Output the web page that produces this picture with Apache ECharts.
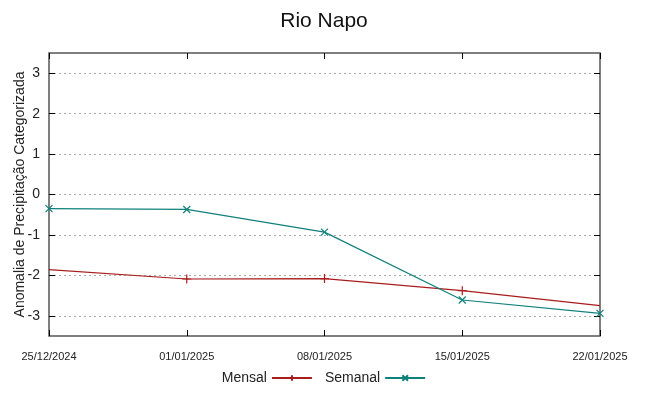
<!DOCTYPE html>
<html>
<head>
<meta charset="utf-8">
<script src="https://cdn.jsdelivr.net/npm/echarts@6/dist/echarts.min.js"></script>
<style>
  html, body { margin: 0; padding: 0; background: #fff; }
  #chart { width: 648px; height: 396px; }
</style>
</head>
<body>
<div id="chart"></div>
<script>
// valores
var datas = ['25/12/2024', '01/01/2025', '08/01/2025', '15/01/2025', '22/01/2025'];
var mensal = [-1.86, -2.09, -2.08, -2.38, -2.75];
var semanal = [-0.35, -0.37, -0.93, -2.61, -2.94];
var yTicks = [-3, -2, -1, 0, 1, 2, 3];

var vermelho = '#a81c1c';
var verde = '#10807c';
var fonte = 'Liberation Sans, Arial, sans-serif';

var plus = 'path://M0,5L10,5M5,0L5,10';
var cross = 'path://M0,0L10,10M10,0L0,10';

// primeiro e ultimo ponto do mensal sem marcador
var mensalData = mensal.map(function (v, i) {
  if (i === 0 || i === mensal.length - 1) return { value: v, symbol: 'none' };
  return v;
});

var chart = echarts.init(document.getElementById('chart'));

var baseX = {
  type: 'category',
  data: datas,
  boundaryGap: false,
  axisLine: { show: false, onZero: false },
  axisTick: { show: true, inside: true, length: 6, lineStyle: { color: '#000' } },
  splitLine: { show: false }
};
var baseY = {
  type: 'value',
  min: -3.5,
  max: 3.5,
  interval: 0.5,
  axisLine: { show: false, onZero: false },
  axisTick: { show: true, inside: true, length: 6, customValues: yTicks, lineStyle: { color: '#000' } },
  splitLine: { show: false }
};

chart.setOption({
  animation: false,
  textStyle: { fontFamily: fonte },
  title: {
    text: 'Rio Napo',
    left: 'center',
    top: 6,
    textStyle: { fontSize: 21, fontWeight: 'normal', color: '#111', fontFamily: fonte }
  },
  grid: {
    left: 49, right: 48, top: 53, bottom: 60,
    outerBoundsMode: 'none', containLabel: false,
    show: true, borderColor: '#555', borderWidth: 1.5
  },
  legend: {
    bottom: 6,
    left: 'center',
    align: 'right',
    itemWidth: 40,
    itemHeight: 7,
    itemGap: 12,
    textStyle: { fontSize: 14, color: '#222', fontFamily: fonte },
    data: ['Mensal', 'Semanal']
  },
  xAxis: [
    Object.assign({}, baseX, {
      position: 'bottom',
      axisLabel: { fontSize: 11, color: '#222', margin: 15, showMinLabel: true, showMaxLabel: true }
    }),
    Object.assign({}, baseX, { position: 'top', axisLabel: { show: false } })
  ],
  yAxis: [
    Object.assign({}, baseY, {
      position: 'left',
      name: 'Anomalia de Precipitação Categorizada',
      nameLocation: 'middle',
      nameGap: 22,
      nameMoveOverlap: false,
      nameTextStyle: { fontSize: 14, color: '#222', fontFamily: fonte },
      splitLine: { show: true, lineStyle: { color: '#aaa', type: [2, 3], width: 1 } },
      axisLabel: { fontSize: 14, color: '#222', margin: 9, customValues: yTicks }
    }),
    Object.assign({}, baseY, { position: 'right', axisLabel: { show: false } })
  ],
  series: [
    {
      name: 'Mensal',
      type: 'line',
      data: mensalData,
      symbol: plus,
      symbolSize: 9,
      lineStyle: { color: vermelho, width: 1.2 },
      itemStyle: { color: vermelho, borderColor: vermelho, borderWidth: 1.2 }
    },
    {
      name: 'Semanal',
      type: 'line',
      data: semanal,
      symbol: cross,
      symbolSize: 7,
      lineStyle: { color: verde, width: 1.2 },
      itemStyle: { color: verde, borderColor: verde, borderWidth: 1.2 }
    }
  ]
});
</script>
</body>
</html>
